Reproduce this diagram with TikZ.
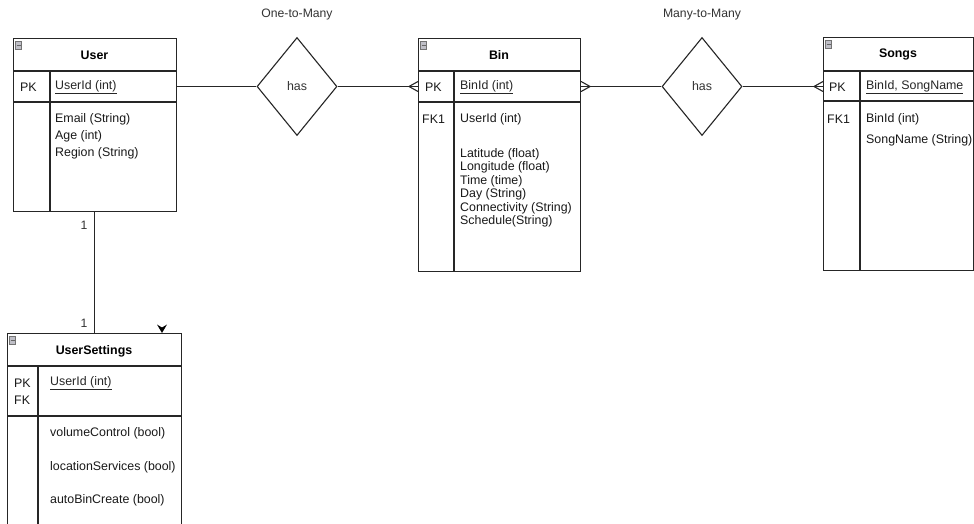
\documentclass[tikz,border=0pt]{standalone}
\usepackage{fontspec}
\setmainfont{Liberation Sans}
\usetikzlibrary{shapes.geometric}
\begin{document}
\begin{tikzpicture}[x=1pt,y=-1pt,
  line/.style={draw=black!85,line width=1.1pt},
  entity/.style={line,rectangle,anchor=north west,inner sep=0pt},
  rel/.style={line,diamond,minimum width=80pt,minimum height=98pt,inner sep=0pt,
    font=\fontsize{12.4}{14}\selectfont,text=black!80},
  ttl/.style={font=\bfseries\fontsize{12.4}{14}\selectfont,text=black,inner sep=0pt},
  lbl/.style={font=\fontsize{12.4}{14}\selectfont,text=black!90,anchor=west,inner sep=0pt},
  pkattr/.style={lbl,text=black!85},
  card/.style={font=\fontsize{12.2}{14}\selectfont,text=black!80,inner sep=0pt},
  icon/.style={draw=black!55,fill=blue!12!black!25,line width=0.7pt,rectangle,
    minimum width=6.5pt,minimum height=7.5pt,inner sep=0pt,
    path picture={\draw[black!60,line width=1pt]
      ([xshift=-2pt]path picture bounding box.center) --
      ([xshift=2pt]path picture bounding box.center);}}]
\clip (0,0) rectangle (974,523);
\fill[white] (0,0) rectangle (974,523);

% ---------- User ----------
\node[entity,minimum width=163pt,minimum height=173pt] (user) at (13,38) {};
\draw[line] (13,71) -- (176,71);
\draw[line] (13,102) -- (176,102);
\draw[line] (50,71) -- (50,211);
\node[icon] at (18.5,45.5) {};
\node[ttl] at (94.5,55) {User};
\node[lbl] at (20,87) {PK};
\node[pkattr] at (55,87) {\underline{UserId (int)}};
\node[lbl] at (55,119) {Email (String)};
\node[lbl] at (55,136) {Age (int)};
\node[lbl] at (55,153) {Region (String)};

% ---------- Bin ----------
\node[entity,minimum width=162pt,minimum height=233pt] (bin) at (418,38) {};
\draw[line] (418,71) -- (580,71);
\draw[line] (418,102) -- (580,102);
\draw[line] (454,71) -- (454,271);
\node[icon] at (423.5,45.5) {};
\node[ttl] at (499,55) {Bin};
\node[lbl] at (425,87) {PK};
\node[pkattr] at (460,87) {\underline{BinId (int)}};
\node[lbl] at (422,119) {FK1};
\node[lbl] at (460,119) {UserId (int)};
\node[lbl] at (460,154) {Latitude (float)};
\node[lbl] at (460,167.5) {Longitude (float)};
\node[lbl] at (460,181) {Time (time)};
\node[lbl] at (460,194.5) {Day (String)};
\node[lbl] at (460,208) {Connectivity (String)};
\node[lbl] at (460,221.5) {Schedule(String)};

% ---------- Songs ----------
\node[entity,minimum width=150pt,minimum height=233pt] (songs) at (823,37) {};
\draw[line] (823,71) -- (973,71);
\draw[line] (823,101) -- (973,101);
\draw[line] (860,71) -- (860,270);
\node[icon] at (828.5,44.5) {};
\node[ttl] at (898,54) {Songs};
\node[lbl] at (829,87) {PK};
\node[pkattr] at (866,87) {\underline{BinId, SongName}};
\node[lbl] at (827,119) {FK1};
\node[lbl] at (866,119) {BinId (int)};
\node[lbl] at (866,140) {SongName (String)};

% ---------- UserSettings ----------
\node[entity,minimum width=174pt,minimum height=200pt] (uset) at (7,333) {};
\draw[line] (7,366) -- (181,366);
\draw[line] (7,416) -- (181,416);
\draw[line] (38,366) -- (38,533);
\node[icon] at (12.5,340.5) {};
\node[ttl] at (94,351) {UserSettings};
\node[lbl] at (14,383) {PK};
\node[lbl] at (14,400) {FK};
\node[pkattr] at (50,383) {\underline{UserId (int)}};
\node[lbl] at (50,433) {volumeControl (bool)};
\node[lbl] at (50,467) {locationServices (bool)};
\node[lbl] at (50,500) {autoBinCreate (bool)};

% ---------- relationships ----------
\node[rel] (has1) at (297,86.5) {has};
\node[rel] (has2) at (702,86.5) {has};
\node[card] at (297,15) {One-to-Many};
\node[card] at (702,15) {Many-to-Many};

% User -- has -- Bin
\draw[line] (has1.west) -- (has1.west -| user.east);
\draw[line] (has1.east) -- (has1.east -| bin.west);
\draw[line] (has1.east -| bin.west) ++(0,-5) -- ++(-9,5) -- ++(9,5);

% Bin -- has -- Songs
\draw[line] (has2.west) -- (has2.west -| bin.east);
\draw[line] (has2.west -| bin.east) ++(0,-5) -- ++(9,5) -- ++(-9,5);
\draw[line] (has2.east) -- (has2.east -| songs.west);
\draw[line] (has2.east -| songs.west) ++(0,-5) -- ++(-9,5) -- ++(9,5);

% User -- UserSettings (one-to-one)
\path (user.south west) ++(81.5,0) coordinate (u1);
\path (uset.north west) ++(87.5,0) coordinate (u2);
\draw[line,line width=1pt] (u1) -- (u2);
\node[card] at (84,225) {1};
\node[card] at (84,323) {1};
\fill[black] (157,324.5) -- (162,327.5) -- (167,324.5) -- (162,333) -- cycle;
\end{tikzpicture}
\end{document}
